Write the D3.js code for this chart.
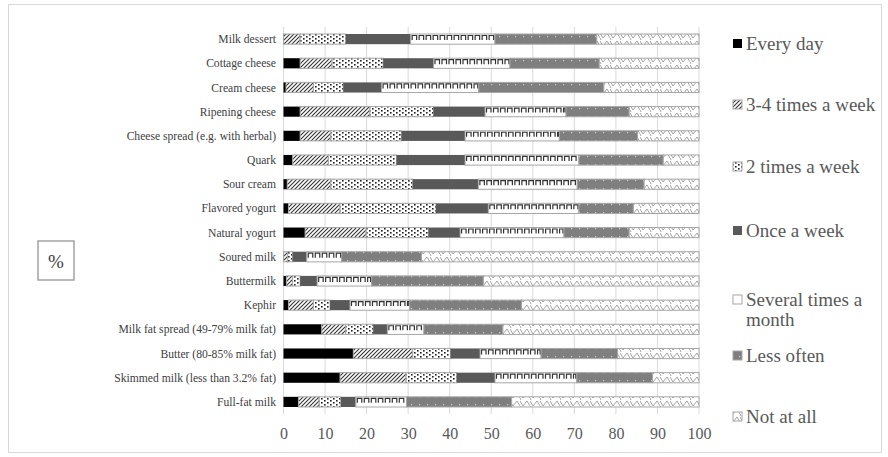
<!DOCTYPE html>
<html><head><meta charset="utf-8">
<script src="https://cdn.jsdelivr.net/npm/d3@7"></script>
<style>body{margin:0;background:#fff}svg{display:block}</style>
</head><body><svg id="c" width="888" height="457"></svg>
<script>
const categories = ["Milk dessert","Cottage cheese","Cream cheese","Ripening cheese","Cheese spread (e.g. with herbal)","Quark","Sour cream","Flavored yogurt","Natural yogurt","Soured milk","Buttermilk","Kephir","Milk fat spread (49-79% milk fat)","Butter (80-85% milk fat)","Skimmed milk (less than 3.2% fat)","Full-fat milk"];
const seriesNames = ["Every day","3-4 times a week","2 times a week","Once a week","Several times a month","Less often","Not at all"];
const everyDay     = [0.0, 4.0, 0.6, 4.0, 4.0, 2.2, 0.9, 1.2, 5.2, 0.0, 0.7, 1.2, 9.2, 16.8, 13.6, 3.6];
const times34      = [4.0, 7.7, 6.6, 16.8, 7.4, 8.6, 10.5, 12.4, 14.7, 1.0, 1.5, 6.0, 5.8, 14.3, 15.9, 5.0];
const times2       = [11.0, 12.3, 7.2, 15.3, 17.0, 16.4, 19.7, 23.1, 15.0, 1.2, 1.8, 4.0, 6.6, 9.1, 12.2, 5.2];
const onceWeek     = [15.6, 12.1, 9.2, 12.4, 15.3, 16.5, 15.8, 12.6, 7.6, 3.4, 4.1, 4.8, 3.4, 7.1, 9.2, 3.6];
const severalMonth = [20.3, 18.4, 23.4, 19.5, 22.7, 27.4, 23.8, 21.8, 25.0, 8.4, 13.1, 14.4, 8.8, 14.7, 19.7, 12.2];
const lessOften    = [24.5, 21.5, 30.1, 15.2, 18.8, 20.3, 16.1, 13.1, 15.7, 19.2, 26.9, 26.9, 19.0, 18.4, 18.2, 25.3];
const notAtAll     = [24.6, 24.0, 22.9, 16.8, 14.8, 8.6, 13.2, 15.8, 16.8, 66.8, 51.9, 42.7, 47.2, 19.6, 11.2, 45.1];
const tickValues = [0,10,20,30,40,50,60,70,80,90,100];

const allSeries = [everyDay, times34, times2, onceWeek, severalMonth, lessOften, notAtAll];
const fills = ["#000","url(#pHatch)","url(#pDots)","#595959","url(#pSeveral)","url(#pLess)","url(#pNot)"];
const strokes = [null,"#a6a6a6","#a6a6a6",null,"#a6a6a6","#a6a6a6","#a6a6a6"];
const SERIF = '"Liberation Serif","Times New Roman",serif';

const svg = d3.select("#c");
const defs = svg.append("defs");
let p = defs.append("pattern").attr("id","pHatch").attr("patternUnits","userSpaceOnUse").attr("width",4).attr("height",4);
p.append("rect").attr("width",4).attr("height",4).attr("fill","#fff");
p.append("path").attr("d","M-1,1 L1,-1 M0,4 L4,0 M3,5 L5,3").attr("stroke","#333").attr("stroke-width",1.1);
p = defs.append("pattern").attr("id","pDots").attr("patternUnits","userSpaceOnUse").attr("width",6).attr("height",4);
p.append("rect").attr("width",6).attr("height",4).attr("fill","#fff");
p.append("rect").attr("x",0).attr("y",0).attr("width",1.6).attr("height",1.6).attr("fill","#222");
p.append("rect").attr("x",3).attr("y",2).attr("width",1.6).attr("height",1.6).attr("fill","#222");
p = defs.append("pattern").attr("id","pSeveral").attr("patternUnits","userSpaceOnUse").attr("width",8).attr("height",8);
p.append("rect").attr("width",8).attr("height",8).attr("fill","#fff");
p = defs.append("pattern").attr("id","pLess").attr("patternUnits","userSpaceOnUse").attr("width",8).attr("height",8);
p.append("rect").attr("width",8).attr("height",8).attr("fill","#7f7f7f");
p.append("rect").attr("x",3).attr("y",4).attr("width",1.2).attr("height",1.2).attr("fill","#d0d0d0");
p = defs.append("pattern").attr("id","pNot").attr("patternUnits","userSpaceOnUse").attr("width",10).attr("height",8);
p.append("rect").attr("width",10).attr("height",8).attr("fill","#fff");
p.append("path").attr("d","M0,1 L3,6 L7,1 L10,6 M0,6 L1,8 M-2,1 L0,1").attr("stroke","#9a9a9a").attr("stroke-width",0.9).attr("fill","none");

svg.append("rect").attr("x",8.5).attr("y",4.5).attr("width",873).attr("height",448).attr("fill","none").attr("stroke","#d9d9d9");

const x = d3.scaleLinear().domain([0,100]).range([283.5,699]);
const y = d3.scaleBand().domain(categories).range([27,414]).paddingInner(0.58).paddingOuter(0.29);

svg.append("g").selectAll("line").data(tickValues).join("line")
  .attr("x1",d=>x(d)).attr("x2",d=>x(d)).attr("y1",27).attr("y2",414)
  .attr("stroke","#d9d9d9").attr("stroke-width",1);

const ax = svg.append("g").attr("transform","translate(0,414)")
  .call(d3.axisBottom(x).tickValues(tickValues).tickSize(0).tickPadding(14).tickFormat(d3.format("d")));
ax.attr("font-family",SERIF).attr("font-size",16);
ax.select(".domain").remove();
ax.selectAll("text").attr("fill","#595959").style("font-family",SERIF).style("font-size","16px");

const bh = y.bandwidth();
categories.forEach((c,i)=>{
  let acc = 0;
  const g = svg.append("g");
  allSeries.forEach((s,k)=>{
    const v = s[i];
    if (v>0){
      const x0 = x(acc), x1 = x(acc+v);
      const r = g.append("rect").attr("x",x0).attr("y",y(c)).attr("width",x1-x0).attr("height",bh).attr("fill",fills[k]);
      if (strokes[k]) r.attr("stroke",strokes[k]).attr("stroke-width",1);
      if (k===4){
        let path = "";
        const yt = y(c)+1.5, yb = y(c)+6;
        for (let xx = x0+1.5; xx < x1-1; xx += 7){
          const xe = Math.min(xx+4.5, x1-1);
          path += `M${xx},${yb} V${yt} H${xe} V${yb} `;
        }
        g.append("path").attr("d",path).attr("stroke","#333").attr("stroke-width",1.2).attr("fill","none");
      }
    }
    acc += v;
  });
});

svg.append("g").selectAll("text").data(categories).join("text")
  .attr("x",276).attr("y",d=>y(d)+bh/2).attr("dy","0.35em").attr("text-anchor","end")
  .style("font-family",SERIF).style("font-size","11.6px").attr("fill","#404040").text(d=>d);

const legY = [44,105,167,231,300,356,417];
const lg = svg.append("g");
seriesNames.forEach((n,k)=>{
  lg.append("rect").attr("x",733).attr("y",legY[k]-5).attr("width",9).attr("height",9)
    .attr("fill",k===4?"#fff":fills[k]).attr("stroke",strokes[k]||"none");
  const t = lg.append("text").attr("x",746).attr("y",legY[k]+6).style("font-family",SERIF).style("font-size","19px").attr("fill","#595959");
  if (k===4){
    t.append("tspan").attr("x",746).text("Several times a");
    t.append("tspan").attr("x",746).attr("dy",20).text("month");
  } else t.text(n);
});

svg.append("rect").attr("x",38).attr("y",241).attr("width",36).attr("height",39).attr("fill","#fff").attr("stroke","#8c8c8c").attr("stroke-width",1.2);
svg.append("text").attr("x",56).attr("y",261).attr("dy","0.35em").attr("text-anchor","middle").style("font-family",SERIF).style("font-size","19px").attr("fill","#404040").text("%");
</script></body></html>
